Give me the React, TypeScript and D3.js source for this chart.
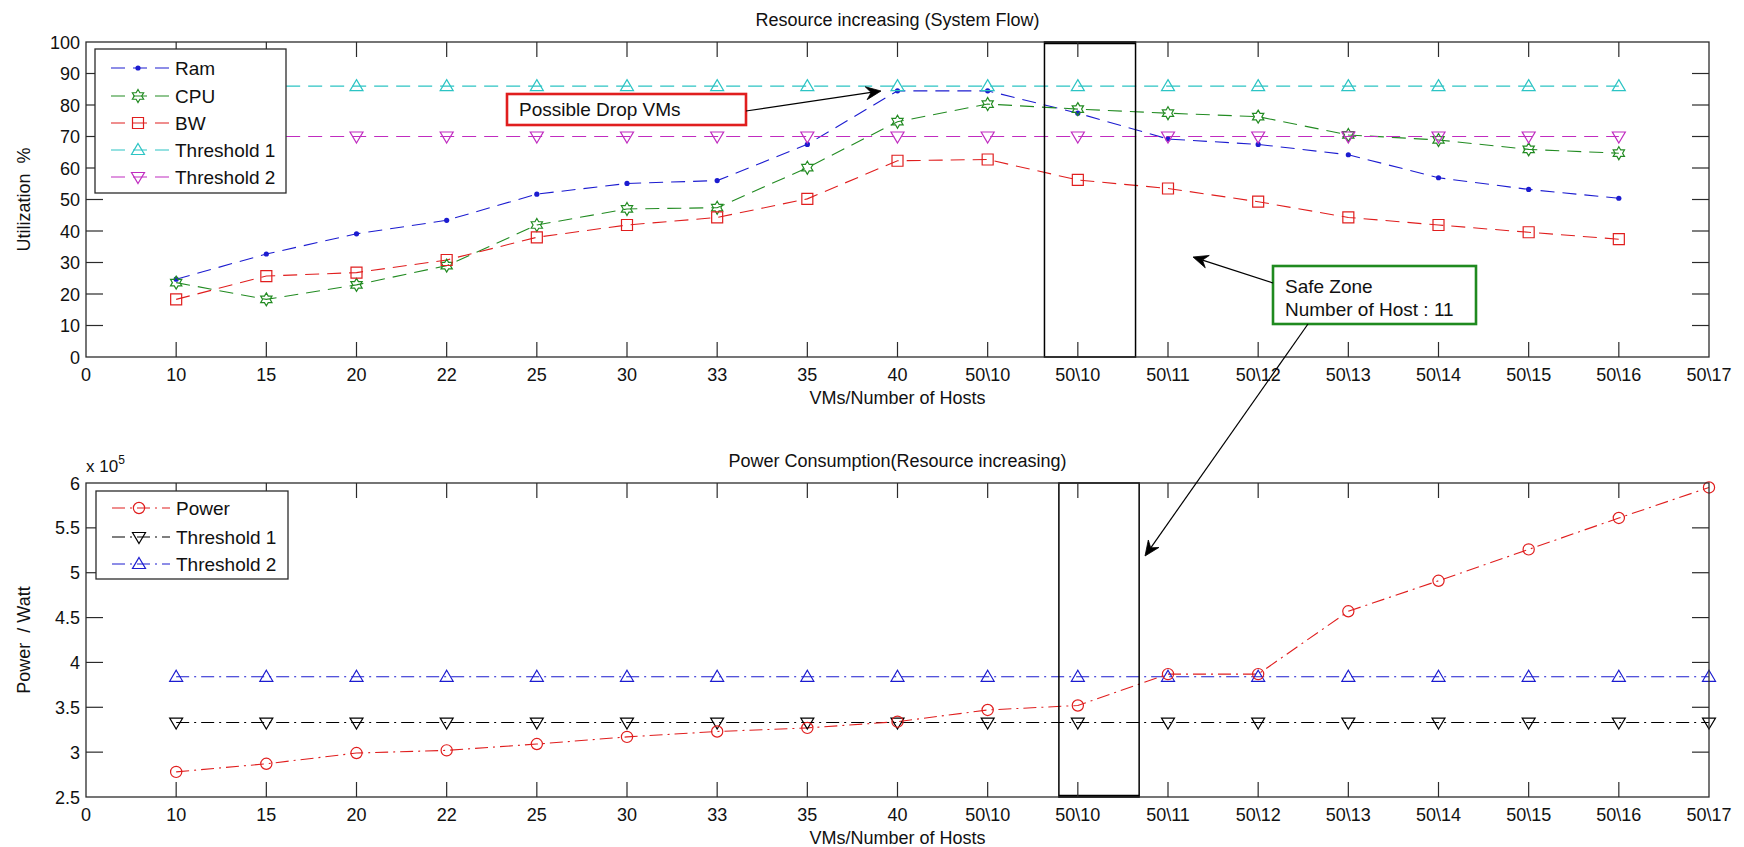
import React from "react";
import * as d3 from "d3";

// ---------- DATA ----------
const xTickLabels = ["0", "10", "15", "20", "22", "25", "30", "33", "35", "40", "50\\10", "50\\10", "50\\11", "50\\12", "50\\13", "50\\14", "50\\15", "50\\16", "50\\17"];
// categories (positions on the x axis) used by the series
const topCategories = xTickLabels.slice(1, 18);
const bottomCategories = xTickLabels.slice(1, 19);

const ramValues = [24.7, 32.7, 39.1, 43.4, 51.7, 55.1, 56.0, 67.5, 84.5, 84.5, 77.4, 69.2, 67.5, 64.2, 56.9, 53.2, 50.4];
const cpuValues = [23.6, 18.3, 22.9, 29.0, 41.9, 47.0, 47.4, 60.1, 74.7, 80.3, 78.7, 77.4, 76.3, 70.5, 68.9, 65.9, 64.7];
const bwValues = [18.3, 25.7, 26.8, 30.8, 38.0, 41.9, 44.3, 50.2, 62.3, 62.7, 56.2, 53.5, 49.3, 44.3, 41.9, 39.6, 37.4];
const utilThreshold1 = [86, 86, 86, 86, 86, 86, 86, 86, 86, 86, 86, 86, 86, 86, 86, 86, 86];
const utilThreshold2 = [70, 70, 70, 70, 70, 70, 70, 70, 70, 70, 70, 70, 70, 70, 70, 70, 70];

const powerValues = [2.78, 2.87, 2.99, 3.02, 3.09, 3.17, 3.23, 3.27, 3.34, 3.47, 3.52, 3.87, 3.87, 4.57, 4.91, 5.26, 5.61, 5.95];
const powerThreshold1 = [3.33, 3.33, 3.33, 3.33, 3.33, 3.33, 3.33, 3.33, 3.33, 3.33, 3.33, 3.33, 3.33, 3.33, 3.33, 3.33, 3.33, 3.33];
const powerThreshold2 = [3.84, 3.84, 3.84, 3.84, 3.84, 3.84, 3.84, 3.84, 3.84, 3.84, 3.84, 3.84, 3.84, 3.84, 3.84, 3.84, 3.84, 3.84];

const topYTicks = [0, 10, 20, 30, 40, 50, 60, 70, 80, 90, 100];
const bottomYTicks = [2.5, 3, 3.5, 4, 4.5, 5, 5.5, 6];

const topTitle = "Resource increasing (System Flow)";
const bottomTitle = "Power Consumption(Resource increasing)";
const xAxisLabel = "VMs/Number of Hosts";

// ---------- STYLE ----------
const FONT = "'Liberation Sans', Arial, Helvetica, sans-serif";
const AX = "#2b2b2b";
const C_BLUE = "#1c1cd0";
const C_GREEN = "#228b22";
const C_RED = "#e01e1e";
const C_CYAN = "#2cc4c4";
const C_MAG = "#c02cc0";
const DASH = "14,8";
const DASHDOT = "13,5,2,5";

const TOP = { left: 86, right: 1709, top: 42, bottom: 357 };
const BOT = { left: 86, right: 1709, top: 483, bottom: 797 };

type MarkerKind = "dot" | "hex" | "square" | "up" | "down" | "circle";

function markerPath(kind: MarkerKind): string {
  if (kind === "hex") {
    const R = 6.5, r = R / Math.sqrt(3);
    const pts = d3.range(12).map((k) => {
      const a = (-90 + k * 30) * Math.PI / 180;
      const rr = k % 2 === 0 ? R : r;
      return [rr * Math.cos(a), rr * Math.sin(a)];
    });
    return "M" + pts.map((p) => p.join(",")).join("L") + "Z";
  }
  if (kind === "square") return "M-5.5,-5.5H5.5V5.5H-5.5Z";
  if (kind === "up") return "M0,-6.5L6.5,4.5L-6.5,4.5Z";
  if (kind === "down") return "M0,6.5L6.5,-4.5L-6.5,-4.5Z";
  return "";
}

function Marker({ kind, x, y, color }: { kind: MarkerKind; x: number; y: number; color: string }) {
  if (kind === "dot") return <circle cx={x} cy={y} r={2.6} fill={color} />;
  if (kind === "circle") return <circle cx={x} cy={y} r={5.6} fill="none" stroke={color} strokeWidth={1.2} />;
  return <path d={markerPath(kind)} transform={`translate(${x},${y})`} fill="none" stroke={color} strokeWidth={1.2} />;
}

type Series = { name: string; values: number[]; color: string; marker: MarkerKind; dash: string };

function Arrow({ x1, y1, x2, y2 }: { x1: number; y1: number; x2: number; y2: number }) {
  const ang = Math.atan2(y2 - y1, x2 - x1);
  const L = 15, W = 6.5, back = 10;
  const bx = x2 - L * Math.cos(ang), by = y2 - L * Math.sin(ang);
  const nx = -Math.sin(ang), ny = Math.cos(ang);
  const mx = x2 - back * Math.cos(ang), my = y2 - back * Math.sin(ang);
  const head = `M${x2},${y2}L${bx + nx * W},${by + ny * W}L${mx},${my}L${bx - nx * W},${by - ny * W}Z`;
  return (
    <g>
      <line x1={x1} y1={y1} x2={mx} y2={my} stroke="#000" strokeWidth={1.2} />
      <path d={head} fill="#000" stroke="#000" strokeWidth={0.8} />
    </g>
  );
}

function Panel({
  box, yDomain, yTicks, yTickFmt, series, categories, ylabel, title, legendBox, legendRows, zone, exponent,
}: {
  box: typeof TOP; yDomain: [number, number]; yTicks: number[]; yTickFmt: (v: number) => string;
  series: Series[]; categories: string[]; ylabel: string; title: string;
  legendBox: { x: number; y: number; w: number; h: number; rowY: number[] };
  legendRows: Series[]; zone: { from: number; to: number; thickEdge: "top" | "bottom" }; exponent?: boolean;
}) {
  const x = d3.scaleLinear().domain([0, xTickLabels.length - 1]).range([box.left, box.right]);
  const y = d3.scaleLinear().domain(yDomain).range([box.bottom, box.top]);
  const catIndex = categories.map((c, i) => i + 1);
  const line = d3.line<number>().x((_, i) => x(catIndex[i])).y((v) => y(v));
  const xt = 15, yt = 17;
  return (
    <g fontFamily={FONT}>
      <rect x={box.left} y={box.top} width={box.right - box.left} height={box.bottom - box.top} fill="#fff" />
      {/* series lines */}
      {series.map((s) => (
        <path key={s.name + "l"} d={line(s.values) || ""} fill="none" stroke={s.color} strokeWidth={1.1} strokeDasharray={s.dash} />
      ))}
      {series.map((s) => (
        <g key={s.name + "m"}>
          {s.values.map((v, i) => (
            <Marker key={i} kind={s.marker} x={x(catIndex[i])} y={y(v)} color={s.color} />
          ))}
        </g>
      ))}
      {/* zone rectangle */}
      <rect x={x(zone.from)} y={box.top} width={x(zone.to) - x(zone.from)} height={box.bottom - box.top} fill="none" stroke="#000" strokeWidth={1.5} />
      <line x1={x(zone.from)} x2={x(zone.to)} y1={zone.thickEdge === "top" ? box.top + 1 : box.bottom - 1} y2={zone.thickEdge === "top" ? box.top + 1 : box.bottom - 1} stroke="#000" strokeWidth={2.5} />
      {/* axes frame */}
      <rect x={box.left} y={box.top} width={box.right - box.left} height={box.bottom - box.top} fill="none" stroke={AX} strokeWidth={1.3} />
      {/* x ticks */}
      {xTickLabels.map((lab, i) => (
        <g key={"xt" + i}>
          {i > 0 && i < xTickLabels.length - 1 && (
            <>
              <line x1={x(i)} x2={x(i)} y1={box.bottom} y2={box.bottom - xt} stroke={AX} strokeWidth={1.2} />
              <line x1={x(i)} x2={x(i)} y1={box.top} y2={box.top + xt} stroke={AX} strokeWidth={1.2} />
            </>
          )}
          <text x={x(i)} y={box.bottom + 24} textAnchor="middle" fontSize={18} fill="#111">{lab}</text>
        </g>
      ))}
      {/* y ticks */}
      {yTicks.map((v, i) => (
        <g key={"yt" + i}>
          {i > 0 && i < yTicks.length - 1 && (
            <>
              <line x1={box.left} x2={box.left + yt} y1={y(v)} y2={y(v)} stroke={AX} strokeWidth={1.2} />
              <line x1={box.right} x2={box.right - yt} y1={y(v)} y2={y(v)} stroke={AX} strokeWidth={1.2} />
            </>
          )}
          <text x={box.left - 6} y={y(v) + 6.5} textAnchor="end" fontSize={18} fill="#111">{yTickFmt(v)}</text>
        </g>
      ))}
      {exponent && (
        <text x={box.left} y={box.top - 11} fontSize={17} fill="#111">
          x 10<tspan dy={-8} fontSize={12}>5</tspan>
        </text>
      )}
      <text x={(box.left + box.right) / 2} y={box.top - 16} textAnchor="middle" fontSize={18} fill="#111">{title}</text>
      <text x={(box.left + box.right) / 2} y={box.bottom + 47} textAnchor="middle" fontSize={18} fill="#111">{xAxisLabel}</text>
      <text transform={`translate(${box.left - 56},${(box.top + box.bottom) / 2}) rotate(-90)`} textAnchor="middle" fontSize={18} fill="#111" style={{ whiteSpace: "pre" }}>{ylabel}</text>
      {/* legend */}
      <rect x={legendBox.x} y={legendBox.y} width={legendBox.w} height={legendBox.h} fill="#fff" stroke={AX} strokeWidth={1.3} />
      {legendRows.map((s, i) => {
        const ry = legendBox.rowY[i];
        return (
          <g key={"lg" + i}>
            <line x1={legendBox.x + 16} x2={legendBox.x + 74} y1={ry} y2={ry} stroke={s.color} strokeWidth={1.1} strokeDasharray={s.dash === DASH ? "14,8" : "13,5,2,5"} />
            <Marker kind={s.marker} x={legendBox.x + 43} y={ry} color={s.color} />
            <text x={legendBox.x + 80} y={ry + 6.5} fontSize={19} fill="#111">{s.name}</text>
          </g>
        );
      })}
    </g>
  );
}

export default function App() {
  const topSeries: Series[] = [
    { name: "Ram", values: ramValues, color: C_BLUE, marker: "dot", dash: DASH },
    { name: "CPU", values: cpuValues, color: C_GREEN, marker: "hex", dash: DASH },
    { name: "BW", values: bwValues, color: C_RED, marker: "square", dash: DASH },
    { name: "Threshold 1", values: utilThreshold1, color: C_CYAN, marker: "up", dash: DASH },
    { name: "Threshold 2", values: utilThreshold2, color: C_MAG, marker: "down", dash: DASH },
  ];
  const bottomSeries: Series[] = [
    { name: "Power", values: powerValues, color: C_RED, marker: "circle", dash: DASHDOT },
    { name: "Threshold 1", values: powerThreshold1, color: "#000", marker: "down", dash: DASHDOT },
    { name: "Threshold 2", values: powerThreshold2, color: C_BLUE, marker: "up", dash: DASHDOT },
  ];
  // draw order for bottom panel: thresholds first, power on top
  const bottomDraw = [bottomSeries[2], bottomSeries[1], bottomSeries[0]];

  return (
    <div style={{ position: "absolute", left: 0, top: 0 }}>
      <svg width={1744} height={847} style={{ display: "block", background: "#fff" }}>
        <rect width={1744} height={847} fill="#fff" />
        <Panel
          box={TOP}
          yDomain={[0, 100]}
          yTicks={topYTicks}
          yTickFmt={(v) => String(v)}
          series={topSeries}
          categories={topCategories}
          ylabel={"Utilization  %"}
          title={topTitle}
          legendBox={{ x: 95, y: 49, w: 191, h: 144, rowY: [68, 96, 123, 150, 177] }}
          legendRows={topSeries}
          zone={{ from: 10.63, to: 11.64, thickEdge: "top" }}
        />
        <Panel
          box={BOT}
          yDomain={[2.5, 6]}
          yTicks={bottomYTicks}
          yTickFmt={(v) => String(v)}
          series={bottomDraw}
          categories={bottomCategories}
          ylabel={"Power  / Watt"}
          title={bottomTitle}
          legendBox={{ x: 96, y: 491, w: 192, h: 88, rowY: [508, 537, 564] }}
          legendRows={bottomSeries}
          zone={{ from: 10.79, to: 11.68, thickEdge: "bottom" }}
          exponent
        />
        {/* annotations */}
        <g fontFamily={FONT}>
          <rect x={507} y={94} width={239} height={31} fill="#fff" stroke={C_RED} strokeWidth={2.6} />
          <text x={519} y={116} fontSize={19} fill="#111">Possible Drop VMs</text>
          <Arrow x1={746} y1={111} x2={881} y2={91} />
          <rect x={1273} y={266} width={203} height={58} fill="#fff" stroke="#1f8a1f" strokeWidth={2.6} />
          <text x={1285} y={293} fontSize={19} fill="#111">Safe Zone</text>
          <text x={1285} y={316} fontSize={19} fill="#111">Number of Host : 11</text>
          <Arrow x1={1273} y1={283} x2={1193} y2={257} />
          <Arrow x1={1308} y1={324} x2={1145} y2={556} />
        </g>
      </svg>
    </div>
  );
}
